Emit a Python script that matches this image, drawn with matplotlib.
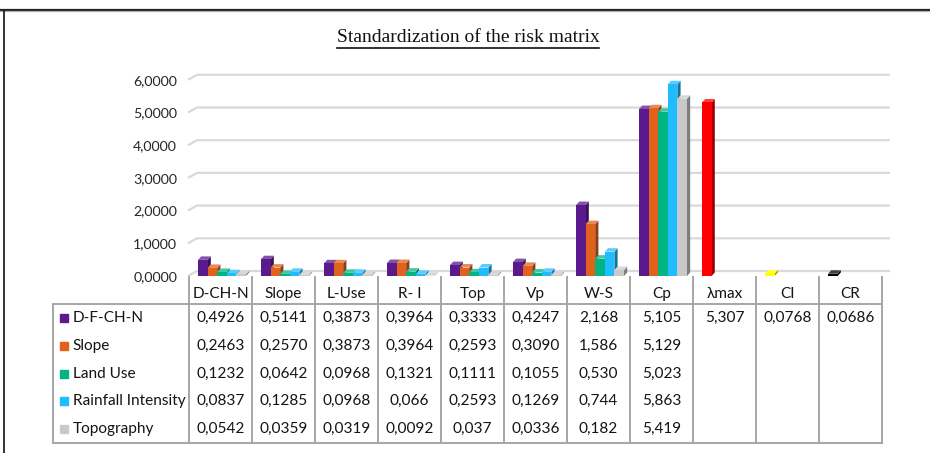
import numpy as np
import matplotlib.pyplot as plt
from matplotlib.patches import Polygon, Rectangle
from matplotlib.lines import Line2D

categories = ['D-CH-N', 'Slope', 'L-Use', 'R- I', 'Top', 'Vp', 'W-S', 'Cp', 'λmax', 'CI', 'CR']
series_names = ['D-F-CH-N', 'Slope', 'Land Use', 'Rainfall Intensity', 'Topography']
series_colors = ['#5a1a8c', '#e2621c', '#00b583', '#1fbdff', '#c9c9c9']

# cell texts of the data table (decimal comma), blank = no value
d_f_ch_n = ['0,4926', '0,5141', '0,3873', '0,3964', '0,3333', '0,4247', '2,168', '5,105', '5,307', '0,0768', '0,0686']
slope = ['0,2463', '0,2570', '0,3873', '0,3964', '0,2593', '0,3090', '1,586', '5,129', '', '', '']
land_use = ['0,1232', '0,0642', '0,0968', '0,1321', '0,1111', '0,1055', '0,530', '5,023', '', '', '']
rainfall = ['0,0837', '0,1285', '0,0968', '0,066', '0,2593', '0,1269', '0,744', '5,863', '', '', '']
topography = ['0,0542', '0,0359', '0,0319', '0,0092', '0,037', '0,0336', '0,182', '5,419', '', '', '']
cells = [d_f_ch_n, slope, land_use, rainfall, topography]

# λmax, CI and CR points of the first series have their own colours
point_colors = {8: '#ff0000', 9: '#ffff00', 10: '#000000'}

y_ticks = [0, 1, 2, 3, 4, 5, 6]
y_tick_labels = ['0,0000', '1,0000', '2,0000', '3,0000', '4,0000', '5,0000', '6,0000']

W, H = 930, 453
TABLE_FONT = 'Lato'


def shade(color, f):
    c = np.array(plt.matplotlib.colors.to_rgb(color))
    if f < 1:
        return tuple(c * f)
    return tuple(c + (1 - c) * (f - 1))


def fx(px):
    return px / W


def fy(py):
    return 1 - py / H


fig = plt.figure(figsize=(W / 100, H / 100), dpi=100)
fig.patch.set_facecolor('white')

# plot area: category i spans [i, i+1], floor front at y=0
x_left, x_right = 189, 882
y_floor, px_per_unit = 276, 32.7
ax = fig.add_axes([fx(x_left), fy(y_floor), (x_right - x_left) / W, 6 * px_per_unit / H])
ax.set_xlim(0, len(categories))
ax.set_ylim(0, 6)
for s in ax.spines.values():
    s.set_visible(False)
ax.set_xticks([])
ax.set_yticks(y_ticks)
ax.set_yticklabels(y_tick_labels, fontfamily=TABLE_FONT, fontsize=10.2, color='#262626')
ax.tick_params(axis='y', length=0, pad=8.5)
ax.patch.set_alpha(0)

col_px = (x_right - x_left) / len(categories)
# back wall offset and bar depth, in data units
wall_dx, wall_dy = 9 / col_px, 5 / px_per_unit
bar_dx, bar_dy = 3.2 / col_px, 3.5 / px_per_unit
bar_w = 9.6 / col_px
bar_start = 9 / col_px

# gridlines on the back wall with the short diagonal on the side wall
grid_end = (890 - x_left) / col_px
x0g = -1 / col_px
for v in y_ticks:
    ax.plot([x0g, x0g + wall_dx, grid_end], [v, v + wall_dy, v + wall_dy],
            color='#d9d9d9', lw=1.6, clip_on=False, zorder=1, solid_capstyle='butt')

# 3D columns
z = 2
for i in range(len(categories)):
    for j, col in enumerate(cells):
        txt = col[i]
        if not txt:
            continue
        h = float(txt.replace(',', '.'))
        color = series_colors[j]
        if j == 0 and i in point_colors:
            color = point_colors[i]
        x0 = i + bar_start + j * bar_w
        side = Polygon([(x0 + bar_w, 0), (x0 + bar_w + bar_dx, bar_dy),
                        (x0 + bar_w + bar_dx, h + bar_dy), (x0 + bar_w, h)],
                       closed=True, facecolor=shade(color, 0.62), edgecolor='none',
                       zorder=z, clip_on=False)
        top = Polygon([(x0, h), (x0 + bar_dx, h + bar_dy), (x0 + bar_w + bar_dx, h + bar_dy),
                       (x0 + bar_w, h)], closed=True, facecolor=shade(color, 1.25),
                      edgecolor='none', zorder=z, clip_on=False)
        ax.add_patch(side)
        ax.add_patch(top)
        ax.bar(x0, h, width=bar_w, align='edge', color=color, zorder=z + 0.5, clip_on=False,
               linewidth=0)
        z += 1

# data table below the plot
line_kw = dict(color='#a6a6a6', lw=1.4, transform=fig.transFigure)
col_edges = np.linspace(x_left, x_right, len(categories) + 1)
row_edges = np.linspace(304, 443, len(series_names) + 1)
legend_left = 53

for xe in col_edges:
    fig.add_artist(Line2D([fx(xe), fx(xe)], [fy(277), fy(443)], **line_kw))
fig.add_artist(Line2D([fx(legend_left), fx(legend_left)], [fy(304), fy(443)], **line_kw))
for ye in (304, 443):
    fig.add_artist(Line2D([fx(legend_left), fx(x_right)], [fy(ye), fy(ye)], **line_kw))

text_kw = dict(fontfamily=TABLE_FONT, fontsize=11.1, color='#141414', va='center')
for i, name in enumerate(categories):
    cx = (col_edges[i] + col_edges[i + 1]) / 2
    fig.text(fx(cx), fy(294), name, ha='center', **text_kw)

for j, (name, col) in enumerate(zip(series_names, cells)):
    cy = (row_edges[j] + row_edges[j + 1]) / 2
    fig.add_artist(Rectangle((fx(60), fy(cy + 4)), 8 / W, 8 / H,
                             transform=fig.transFigure, color=series_colors[j]))
    fig.text(fx(72.5), fy(cy), name, ha='left', **text_kw)
    for i, txt in enumerate(col):
        if txt:
            cx = (col_edges[i] + col_edges[i + 1]) / 2
            fig.text(fx(cx), fy(cy), txt, ha='center', **text_kw)

# title with underline
title = fig.text(fx(468), fy(37), 'Standardization of the risk matrix', ha='center',
                 va='center', fontfamily='Liberation Serif', fontsize=14, color='#111111')
fig.canvas.draw()
bb = title.get_window_extent()
fig.add_artist(Line2D([bb.x0 / W, bb.x1 / W], [fy(47.5), fy(47.5)], color='#111111',
                      lw=1.2, transform=fig.transFigure))

# outer frame (top and left edges)
fig.add_artist(Line2D([0, 1], [fy(9.5), fy(9.5)], color='#222222', lw=1.6, transform=fig.transFigure))
fig.add_artist(Line2D([0, 1], [fy(11.2), fy(11.2)], color='#b0b0b0', lw=0.9, transform=fig.transFigure))
fig.add_artist(Line2D([fx(4), fx(4)], [fy(10), 0], color='#222222', lw=1.3, transform=fig.transFigure))

fig.savefig('out.png', dpi=100)
